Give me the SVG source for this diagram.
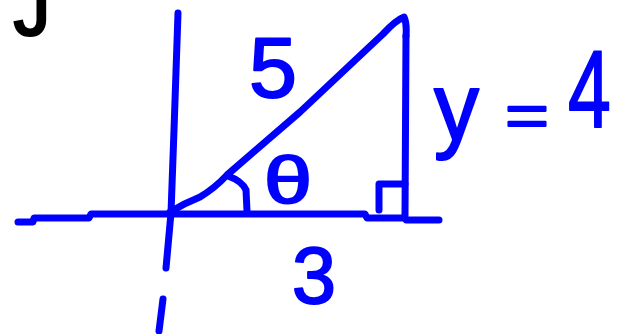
<svg xmlns="http://www.w3.org/2000/svg" width="619" height="334" viewBox="0 0 619 334">
<style>
.s{fill:none;stroke:#0000ff;stroke-width:7;stroke-linecap:round;stroke-linejoin:round}
.t{fill:#0000ff;stroke:#0000ff;stroke-width:2;stroke-linejoin:round;font-family:"Liberation Sans","DejaVu Sans",sans-serif}
.k{fill:#000;stroke:#000;stroke-width:3;font-family:"Liberation Sans","DejaVu Sans",sans-serif}
</style>
<rect width="619" height="334" fill="#fff"/>
<g id="connectors">
<g id="y-axis">
<path class="s" d="M178 13 L174 130 L171 213 L166 268"/>
<path class="s" d="M163 299 L159 331"/>
</g>
<g id="x-axis">
<path class="s" d="M18 222 L33 222 L34 218 L89 218 L91 214 L365 214 L367 218 L405 218 L406 220 L439 220"/>
</g>
<g id="hypotenuse">
<path class="s" d="M170 212 Q185 203 200 197 Q215 188 227 175 L300 112 L383 34 Q396 20 404 17 Q407 24 406 36"/>
</g>
<g id="opposite">
<path class="s" d="M406 36 L405 216"/>
</g>
<g id="angle-arc">
<path class="s" d="M228 176 Q242 181 246 190 L247 211"/>
</g>
<g id="right-angle">
<path class="s" d="M379 210 L379 184 L405 184"/>
</g>
</g>
<g id="labels">
<text class="k" x="14" y="35" font-size="72" textLength="36" lengthAdjust="spacingAndGlyphs">J</text>
<text class="t" x="249" y="97" font-size="86" textLength="48" lengthAdjust="spacingAndGlyphs">5</text>
<text class="t" x="264" y="203" font-size="66" textLength="48" lengthAdjust="spacingAndGlyphs">θ</text>
<text class="t" x="292" y="303" font-size="80" textLength="44" lengthAdjust="spacingAndGlyphs">3</text>
<text class="t" x="434" y="140" font-size="96" textLength="45" lengthAdjust="spacingAndGlyphs">y</text>
<text class="t" x="505" y="136" font-size="60" textLength="44" lengthAdjust="spacingAndGlyphs">=</text>
<text class="t" transform="translate(568,127) scale(0.7,1)" font-size="110">4</text>
</g>
</svg>
